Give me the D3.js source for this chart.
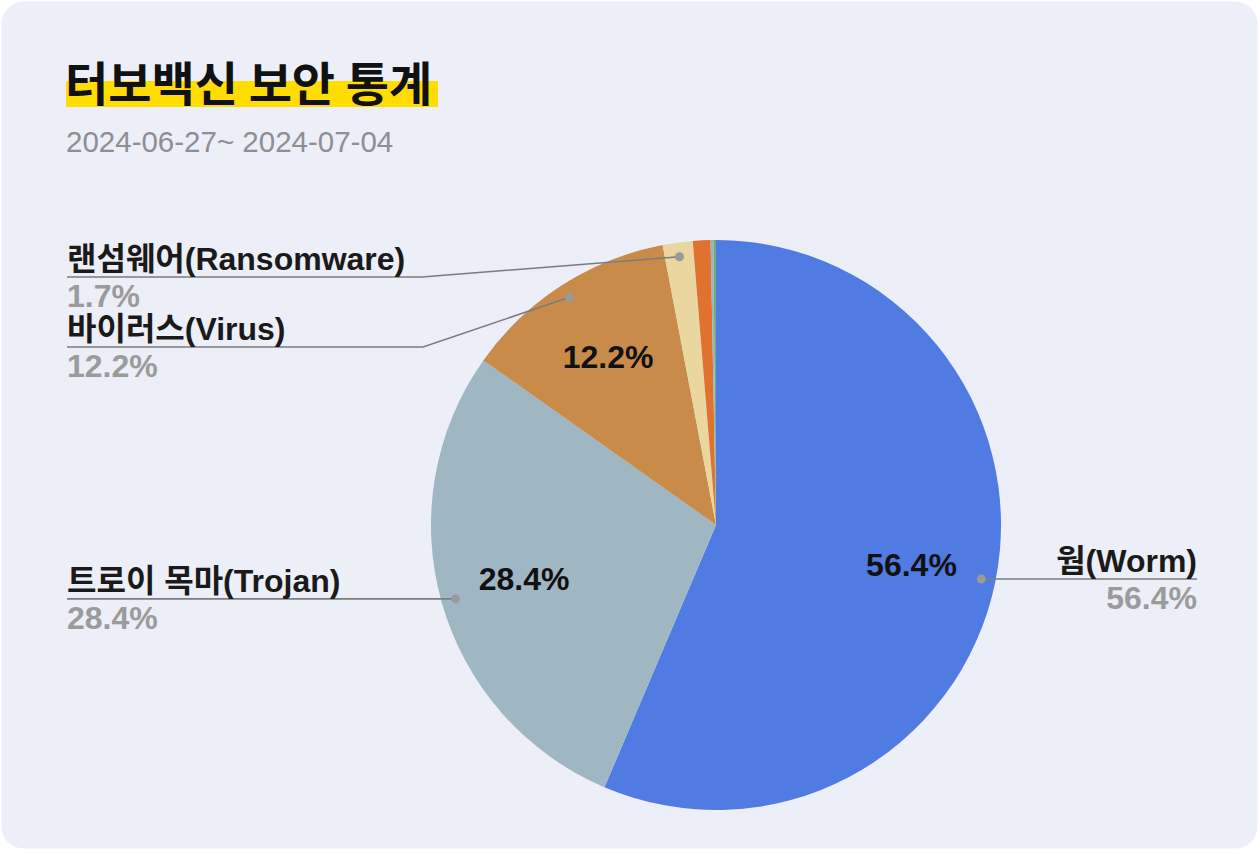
<!DOCTYPE html>
<html>
<head>
<meta charset="utf-8">
<script src="https://cdn.jsdelivr.net/npm/d3@7"></script>
<style>
  html, body { margin: 0; padding: 0; background: #ffffff; }
  svg { display: block; }
</style>
</head>
<body>
<svg id="chart" width="1260" height="854"></svg>
<script>
// ---- data ----
const categories = ["웜(Worm)", "트로이 목마(Trojan)", "바이러스(Virus)", "랜섬웨어(Ransomware)", "기타1", "기타2", "기타3"];
const values = [56.4, 28.4, 12.2, 1.7, 1.0, 0.15, 0.15];
const valueLabels = ["56.4%", "28.4%", "12.2%", "1.7%", "", "", ""];
const colors = ["#4f7be3", "#9fb6c3", "#c98b4a", "#e9d79f", "#e0712f", "#9ab3c9", "#6db07c"];
const showOutside = [true, true, true, true, false, false, false];
const showInside = [true, true, true, false, false, false, false];
const titleText = "터보백신 보안 통계";
const subtitleText = "2024-06-27~ 2024-07-04";

// ---- layout ----
const W = 1260, H = 854;
const cx = 716, cy = 525, R = 285;
const latin = "'Liberation Sans', Arial, 'Noto Sans CJK KR', sans-serif";
const labelLayout = [
  { side: "right", lineY: null },
  { side: "left", lineY: null },
  { side: "left", lineY: 347, elbowX: 423 },
  { side: "left", lineY: 277, elbowX: 422 },
  null, null, null
];
const leftX = 67, rightX = 1197;

const svg = d3.select("#chart");

// card
svg.append("rect")
  .attr("x", 1.5).attr("y", 1.5)
  .attr("width", 1256).attr("height", 847)
  .attr("rx", 22).attr("ry", 22)
  .attr("fill", "#eceef8");

// title highlight + title
svg.append("rect")
  .attr("x", 66).attr("y", 81).attr("width", 372).attr("height", 26)
  .attr("fill", "#ffdd00");
svg.append("text")
  .attr("x", 65).attr("y", 101)
  .attr("font-family", "'Noto Sans CJK KR', sans-serif")
  .attr("font-weight", 700)
  .attr("font-size", 47)
  .attr("fill", "#111111")
  .text(titleText);

svg.append("text")
  .attr("x", 66).attr("y", 152)
  .attr("font-family", latin)
  .attr("font-size", 29.5)
  .attr("fill", "#8e8e93")
  .text(subtitleText);

// pie
const pie = d3.pie().sort(null).value(d => d.v);
const data = values.map((v, i) => ({ v, i }));
const arcs = pie(data);
const arc = d3.arc().innerRadius(0).outerRadius(R);
const dotArc = d3.arc().innerRadius(R * 0.95).outerRadius(R * 0.95);
const inArc = d3.arc().innerRadius(R * 0.7).outerRadius(R * 0.7);

const g = svg.append("g").attr("transform", `translate(${cx},${cy})`);
g.selectAll("path.slice").data(arcs).join("path")
  .attr("class", "slice")
  .attr("d", arc)
  .attr("fill", d => colors[d.data.i]);

// inside labels
g.selectAll("text.inside").data(arcs.filter(d => showInside[d.data.i])).join("text")
  .attr("class", "inside")
  .attr("x", d => inArc.centroid(d)[0])
  .attr("y", d => inArc.centroid(d)[1])
  .attr("text-anchor", "middle")
  .attr("dominant-baseline", "central")
  .attr("font-family", latin)
  .attr("font-weight", 700)
  .attr("font-size", 32)
  .attr("fill", "#111111")
  .text(d => valueLabels[d.data.i]);

// outside labels with leader lines
const lab = svg.append("g");
arcs.filter(d => showOutside[d.data.i]).forEach(d => {
  const i = d.data.i;
  const L = labelLayout[i];
  const c = dotArc.centroid(d);
  const dx = cx + c[0], dy = cy + c[1];
  const ly = L.lineY == null ? dy : L.lineY;
  let pts;
  if (L.side === "right") {
    pts = [[dx, dy], [rightX, ly]];
  } else if (L.lineY == null) {
    pts = [[leftX, ly], [dx, dy]];
  } else {
    pts = [[leftX, ly], [L.elbowX, ly], [dx, dy]];
  }
  lab.append("path")
    .attr("d", d3.line()(pts))
    .attr("fill", "none")
    .attr("stroke", "#7c7c7c")
    .attr("stroke-width", 1.6);
  lab.append("circle")
    .attr("cx", dx).attr("cy", dy).attr("r", 4.5)
    .attr("fill", "#9a9a9a");
  const tx = L.side === "right" ? rightX : leftX;
  const anchor = L.side === "right" ? "end" : "start";
  lab.append("text")
    .attr("x", tx).attr("y", ly - 7)
    .attr("text-anchor", anchor)
    .attr("font-family", latin)
    .attr("font-weight", 700)
    .attr("font-size", 32)
    .attr("fill", "#1a1a1a")
    .text(categories[i]);
  lab.append("text")
    .attr("x", tx).attr("y", ly + 30)
    .attr("text-anchor", anchor)
    .attr("font-family", latin)
    .attr("font-weight", 700)
    .attr("font-size", 32)
    .attr("fill", "#9b9b9b")
    .text(valueLabels[i]);
});
</script>
</body>
</html>
